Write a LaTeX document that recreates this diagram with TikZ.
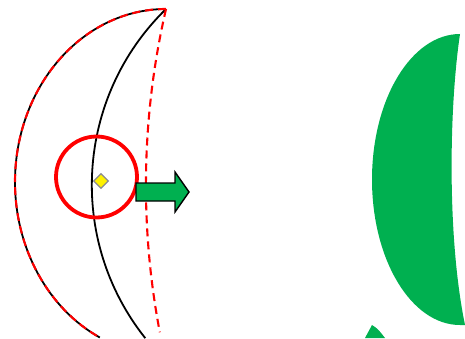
\documentclass[tikz,border=0pt]{standalone}
\usepackage{tikz}
\usetikzlibrary{shapes.geometric}
\definecolor{moongreen}{HTML}{00B050}
\begin{document}
\begin{tikzpicture}[x=1pt, y=1pt,
  rim/.style={line width=1.8pt, black},
  guide/.style={line width=2.1pt, red, dash pattern=on 8pt off 5pt},
  handle/.style={circle, draw=red, line width=3.8pt, minimum size=81pt, inner sep=0pt},
  knob/.style={diamond, draw=black!45, fill=yellow, line width=1.3pt, minimum size=15pt, inner sep=0pt},
  blob/.style={fill=moongreen, draw=none}]
  \useasboundingbox (0,0) rectangle (465,338);
  % Moon outline being edited
  \draw[rim] (166,329) arc[start angle=90, end angle=244, x radius=151, y radius=173];
  \draw[rim] (166,329) arc[start angle=134.3, end angle=218.5, radius=246];
  \draw[guide] (166,329) arc[start angle=90, end angle=244, x radius=151, y radius=173];
  \draw[guide] (166,329) arc[start angle=167, end angle=190.8, radius=784];
  \node[handle] (grip) at (96.5,161) {};
  \node[knob] (adj) at (101,157) {};
  % Result arrow
  \draw[blob, draw=black, line width=1.4pt] (136,155) -- (175,155) -- (175,166) -- (189,146)
    -- (175,126) -- (175,137) -- (136,137) -- cycle;
  % Resulting filled moon
  \fill[moongreen] (460,304) arc[start angle=90, end angle=270, x radius=88, y radius=145.5]
    -- (465,13) .. controls (447,100) and (449,230) .. (460,304) -- cycle;
  \fill[moongreen] (365,0) -- (372,13) .. controls (378,9) .. (385,0) -- cycle;
\end{tikzpicture}
\end{document}
